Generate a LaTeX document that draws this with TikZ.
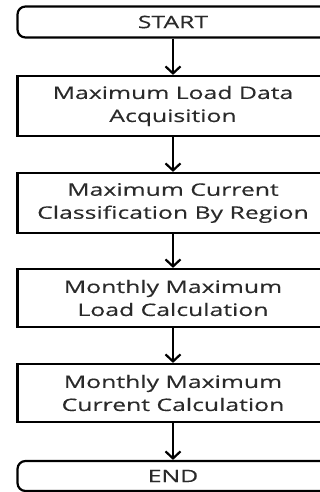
\documentclass[tikz,border=0pt]{standalone}
\usepackage{fontspec}
\setmainfont{Open Sans}[FakeStretch=1.44,FakeBold=0.3]
\usetikzlibrary{arrows.meta}
\definecolor{ink}{HTML}{2A2A2A}
\tikzset{
  every node/.style={font=\fontsize{17.2pt}{23pt}\selectfont, text=ink},
  stepbox/.style={draw=black, line width=2.2pt, rectangle, minimum width=311pt,
    minimum height=60pt, align=center, inner sep=0pt},
  termbox/.style={stepbox, rounded corners=8pt, minimum height=31pt},
  flow/.style={line width=2.2pt, -{Straight Barb[length=7pt,width=15pt]}}
}
\begin{document}
\begin{tikzpicture}[x=1pt,y=-1pt]
  \useasboundingbox (0,0) rectangle (320,492);
  \node[termbox] (start) at (173,22) {START};
  \node[stepbox] (acq) at (173,106) {Maximum Load Data\\Acquisition};
  \node[stepbox] (cls) at (173,203) {Maximum Current\\Classification By Region};
  \node[stepbox, minimum height=58pt] (mload) at (173,298) {Monthly Maximum\\Load Calculation};
  \node[stepbox, minimum height=58pt] (mcur) at (173,393) {Monthly Maximum\\Current Calculation};
  \node[termbox, minimum height=30pt] (end) at (173,476) {END};
  \draw[flow] (start) -- (acq);
  \draw[flow] (acq) -- (cls);
  \draw[flow] (cls) -- (mload);
  \draw[flow] (mload) -- (mcur);
  \draw[flow] (mcur) -- (end);
\end{tikzpicture}
\end{document}
